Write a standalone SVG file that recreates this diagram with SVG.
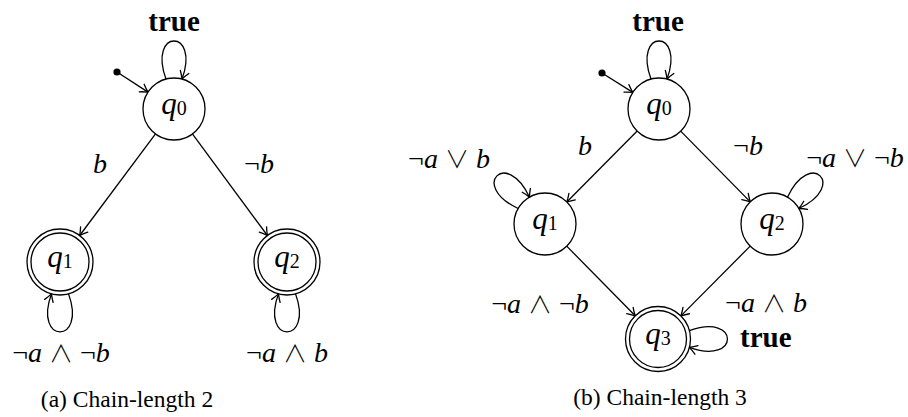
<svg xmlns="http://www.w3.org/2000/svg" width="908" height="417" viewBox="0 0 908 417">
<style>
.st{fill:#fff;stroke:#000;stroke-width:1.3}
.ed{fill:none;stroke:#000;stroke-width:1.3;marker-end:url(#arr)}
.m{font-family:"Liberation Serif","Times New Roman",serif;font-style:italic;font-size:28px;fill:#000;text-anchor:middle}
.q{font-family:"Liberation Serif","Times New Roman",serif;font-style:italic;font-size:31px;fill:#000;text-anchor:middle}
.up{font-style:normal}
.op{font-style:normal;font-family:"Noto Sans CJK JP","DejaVu Sans",sans-serif;font-weight:300;font-size:24px}
.sub{font-style:normal;font-size:20px}
.tr{font-family:"Liberation Serif","Times New Roman",serif;font-weight:bold;font-size:29px;fill:#000}
.cap{font-family:"Liberation Serif","Times New Roman",serif;font-size:23.5px;fill:#000;text-anchor:middle}
</style>
<defs>
<marker id="arr" markerUnits="userSpaceOnUse" markerWidth="12" markerHeight="12" refX="0" refY="0" viewBox="-9 -6 10 12" orient="auto" overflow="visible">
<path d="M-7.5,-4.5 C-4,-2 -1,-0.5 0,0 C-1,0.5 -4,2 -7.5,4.5" fill="none" stroke="#000" stroke-width="1.3" stroke-linecap="round"/>
</marker>
</defs>

<g id="connectors">
<!-- (a) -->
<circle cx="117" cy="72" r="3.6" fill="#000"/>
<line class="ed" x1="117" y1="72" x2="148" y2="92.1"/>
<path class="ed" d="M165.98,79.06 C147.51,28.32 200.49,28.32 182.02,79.06"/>
<line class="ed" x1="155.5" y1="133.9" x2="79.7" y2="235.5"/>
<line class="ed" x1="192.4" y1="133.9" x2="267.4" y2="235.5"/>
<path class="ed" d="M68.54,293.87 C87.01,344.61 32.99,344.61 51.46,293.87"/>
<path class="ed" d="M295.54,293.87 C314.01,344.61 259.99,344.61 278.46,293.87"/>
<!-- (b) -->
<circle cx="602" cy="73" r="3.6" fill="#000"/>
<line class="ed" x1="602" y1="73" x2="632.8" y2="92.4"/>
<path class="ed" d="M650.98,79.06 C632.51,28.32 685.49,28.32 667.02,79.06"/>
<line class="ed" x1="637.2" y1="131" x2="566.8" y2="202"/>
<line class="ed" x1="680.7" y1="131.1" x2="750.3" y2="201.9"/>
<path class="ed" d="M518.15,208.5 C469.21,185.68 506.68,148.21 529.5,197.15"/>
<path class="ed" d="M787.5,197.15 C810.32,148.21 847.79,185.68 798.85,208.5"/>
<line class="ed" x1="566.7" y1="246.1" x2="635.2" y2="315.8"/>
<line class="ed" x1="750.2" y1="246.1" x2="680.9" y2="315.9"/>
<path class="ed" d="M689.39,330.59 C740.13,312.12 740.13,365.88 689.39,347.41"/>
</g>

<g id="labels">
<text class="tr" x="174" y="31" text-anchor="middle">true</text>
<text class="m" x="100" y="173">b</text>
<text class="m" x="259" y="173"><tspan class="up">¬</tspan>b</text>
<text class="m" x="61" y="362"><tspan class="up">¬</tspan>a <tspan class="op">∧</tspan> <tspan class="up">¬</tspan>b</text>
<text class="m" x="287" y="362"><tspan class="up">¬</tspan>a <tspan class="op">∧</tspan> b</text>
<text class="cap" x="127" y="407">(a) Chain-length 2</text>

<text class="tr" x="658" y="31" text-anchor="middle">true</text>
<text class="m" x="585" y="155">b</text>
<text class="m" x="748" y="155"><tspan class="up">¬</tspan>b</text>
<text class="m" x="449" y="168"><tspan class="up">¬</tspan>a <tspan class="op">∨</tspan> b</text>
<text class="m" x="855" y="167"><tspan class="up">¬</tspan>a <tspan class="op">∨</tspan> <tspan class="up">¬</tspan>b</text>
<text class="m" x="540" y="313"><tspan class="up">¬</tspan>a <tspan class="op">∧</tspan> <tspan class="up">¬</tspan>b</text>
<text class="m" x="766" y="312"><tspan class="up">¬</tspan>a <tspan class="op">∧</tspan> b</text>
<text class="tr" x="740" y="347">true</text>
<text class="cap" x="660" y="405">(b) Chain-length 3</text>
</g>

<g id="a-q0"><circle class="st" cx="174" cy="109" r="31"/><text class="q" x="174" y="114">q<tspan class="sub" dy="1">0</tspan></text></g>
<g id="a-q1"><circle class="st" cx="60" cy="262" r="33"/><circle class="st" cx="60" cy="262" r="29"/><text class="q" x="60" y="267">q<tspan class="sub" dy="1">1</tspan></text></g>
<g id="a-q2"><circle class="st" cx="287" cy="262" r="33"/><circle class="st" cx="287" cy="262" r="29"/><text class="q" x="287" y="267">q<tspan class="sub" dy="1">2</tspan></text></g>

<g id="b-q0"><circle class="st" cx="659" cy="109" r="31"/><text class="q" x="659" y="114">q<tspan class="sub" dy="1">0</tspan></text></g>
<g id="b-q1"><circle class="st" cx="545" cy="224" r="31"/><text class="q" x="545" y="229">q<tspan class="sub" dy="1">1</tspan></text></g>
<g id="b-q2"><circle class="st" cx="772" cy="224" r="31"/><text class="q" x="772" y="229">q<tspan class="sub" dy="1">2</tspan></text></g>
<g id="b-q3"><circle class="st" cx="658" cy="339" r="32.5"/><circle class="st" cx="658" cy="339" r="28.5"/><text class="q" x="658" y="344">q<tspan class="sub" dy="1">3</tspan></text></g>
</svg>
